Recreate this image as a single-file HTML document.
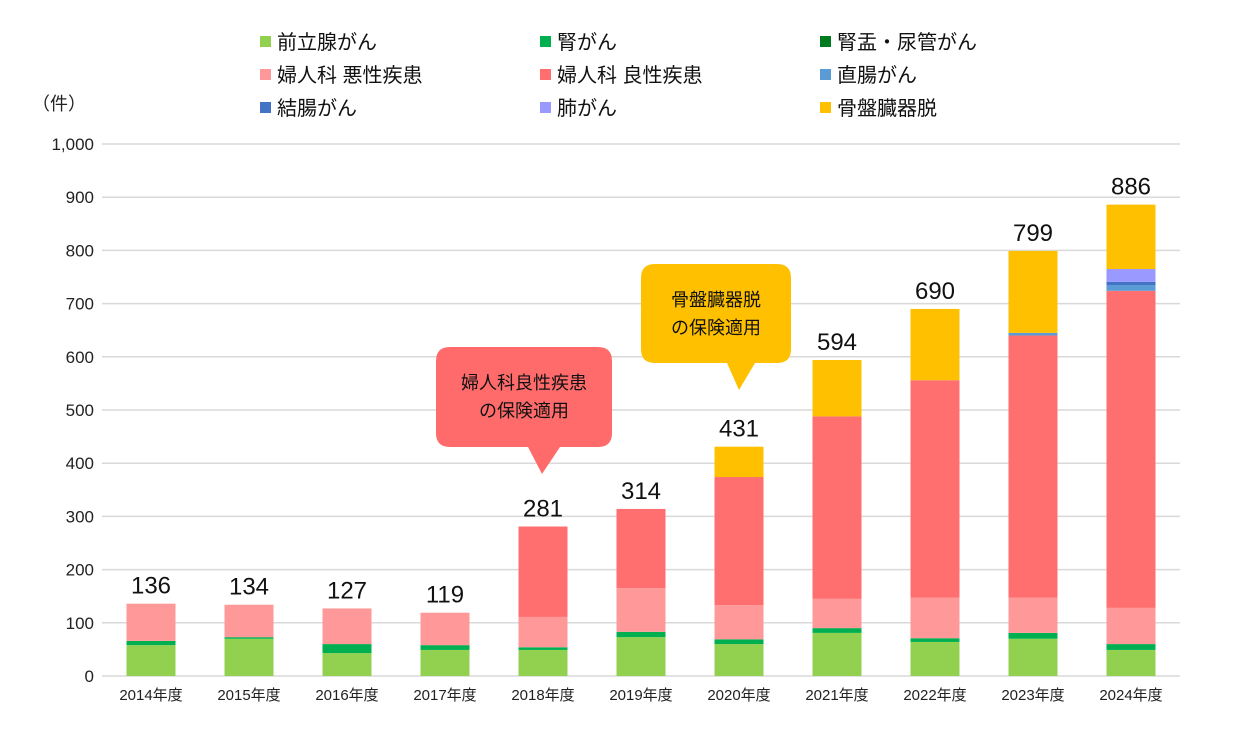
<!DOCTYPE html>
<html><head><meta charset="utf-8">
<style>
body{margin:0;background:#fff;width:1259px;height:749px;overflow:hidden;font-family:"Liberation Sans","Noto Sans CJK JP",sans-serif;}
</style></head><body>
<svg id="chart" width="1259" height="749" xmlns="http://www.w3.org/2000/svg" font-family="Liberation Sans, Noto Sans CJK JP, sans-serif">
<g id="grid"></g>
<g id="bars"></g>
<g id="labels"></g>
<text x="32" y="110" font-size="18" fill="#222">（件）</text>
<g id="legend"></g>
<g>
<path d="M450,347 H598 Q612,347 612,361 V433 Q612,447 598,447 H560 L542,474 L528,447 H450 Q436,447 436,433 V361 Q436,347 450,347 Z" fill="#ff6b6b"/>
<text x="524" y="389" font-size="18" text-anchor="middle" fill="#111">婦人科良性疾患</text>
<text x="524" y="417" font-size="18" text-anchor="middle" fill="#111">の保険適用</text>
</g>
<g>
<path d="M655,264 H777 Q791,264 791,278 V349 Q791,363 777,363 H755 L739,390 L727,363 H655 Q641,363 641,349 V278 Q641,264 655,264 Z" fill="#ffc000"/>
<text x="716" y="306" font-size="18" text-anchor="middle" fill="#111">骨盤臓器脱</text>
<text x="716" y="334" font-size="18" text-anchor="middle" fill="#111">の保険適用</text>
</g>
</svg>
<script>
const categories=["2014年度","2015年度","2016年度","2017年度","2018年度","2019年度","2020年度","2021年度","2022年度","2023年度","2024年度"];
const seriesNames=["前立腺がん","腎がん","腎盂・尿管がん","婦人科 悪性疾患","婦人科 良性疾患","直腸がん","結腸がん","肺がん","骨盤臓器脱"];
const seriesColors=["#92d050","#00b050","#007a1e","#ff9999","#ff6f6f","#5b9bd5","#4472c4","#9999ff","#ffc000"];
const prostate=[58,70,43,49,49,73,60,81,64,70,49];
const kidney=[8,3,17,9,5,10,9,9,7,11,11];
const ureter=[0,0,0,0,0,0,0,0,0,0,0];
const gynMalignant=[70,61,67,61,57,82,64,55,76,66,68];
const gynBenign=[0,0,0,0,170,149,241,343,409,493,596];
const rectal=[0,0,0,0,0,0,0,0,0,5,11];
const colon=[0,0,0,0,0,0,0,0,0,0,6];
const lung=[0,0,0,0,0,0,0,0,0,0,24];
const pelvic=[0,0,0,0,0,0,57,106,134,154,121];
const totals=[136,134,127,119,281,314,431,594,690,799,886];
const yTicks=[0,100,200,300,400,500,600,700,800,900,1000];
const yTickLabels=["0","100","200","300","400","500","600","700","800","900","1,000"];
const series=[prostate,kidney,ureter,gynMalignant,gynBenign,rectal,colon,lung,pelvic];
const NS="http://www.w3.org/2000/svg";
const x0=102,x1=1180,y0=676,yTop=144,yMax=1000;
const band=(x1-x0)/categories.length,bw=49;
function yS(v){return y0-(v/yMax)*(y0-yTop);}
function xC(i){return x0+band*(i+0.5);}
function mk(t,a,p){const e=document.createElementNS(NS,t);for(const k in a)e.setAttribute(k,a[k]);p.appendChild(e);return e;}
const grid=document.getElementById('grid'),bars=document.getElementById('bars'),labels=document.getElementById('labels'),legend=document.getElementById('legend');
yTicks.forEach((t,i)=>{
 const l=mk('line',{x1:x0,x2:x1,y1:yS(t),y2:yS(t),stroke:'#d9d9d9','stroke-width':1.5},grid);
 
 
 const tx=mk('text',{x:94,y:yS(t)+6,'font-size':17,'text-anchor':'end',fill:'#222'},labels);
 tx.textContent=yTickLabels[i];
 
 
});
categories.forEach((c,i)=>{
 let acc=0;
 series.forEach((s,k)=>{
  const v=s[i]; if(v<=0)return;
  const r=mk('rect',{x:xC(i)-bw/2,y:yS(acc+v),width:bw,height:yS(acc)-yS(acc+v),fill:seriesColors[k]},bars);
  
  
  acc+=v;
 });
 const tl=mk('text',{x:xC(i),y:yS(totals[i])-10,'font-size':24,'text-anchor':'middle',fill:'#111'},labels);
 tl.textContent=totals[i];
 
 
 const xl=mk('text',{x:xC(i),y:700,'font-size':15,'text-anchor':'middle',fill:'#222'},labels);
 xl.textContent=c;
 
 
});
const legX=[260,540,820],legY=[42,75,108];
seriesNames.forEach((n,k)=>{
 const gx=legX[k%3],gy=legY[Math.floor(k/3)];
 const g=mk('g',{},legend);
 
 
 mk('rect',{x:gx,y:gy-6,width:11,height:11,fill:seriesColors[k]},g);
 const t=mk('text',{x:gx+17,y:gy+7,'font-size':20,fill:'#111'},g);
 t.textContent=n;
});
</script>
</body></html>
